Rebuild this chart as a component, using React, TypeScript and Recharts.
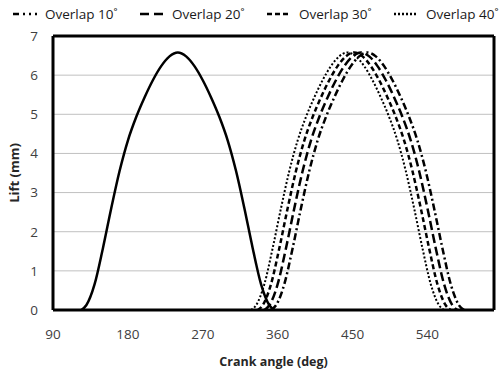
import React from "react";
import {
  LineChart,
  Line,
  XAxis,
  YAxis,
  CartesianGrid,
  Legend,
  ReferenceLine,
} from "recharts";

// lift (mm), same cam profile for every valve
const LIFT = [0, 0.12, 0.66, 1.58, 2.6, 3.55, 4.33, 4.93, 5.43, 5.87, 6.23, 6.48, 6.58, 6.48, 6.23, 5.87, 5.43, 4.93, 4.33, 3.55, 2.6, 1.58, 0.66, 0.12, 0];

// crank angles (deg) for each curve, one per lift value above
const ANGLE_EXHAUST = [124, 130, 140, 150, 160, 170, 180, 190, 200, 210, 220, 230, 240, 250, 260, 270, 280, 290, 300, 310, 320, 330, 340, 350, 356];
const ANGLE_OV40 = [328, 334, 344, 354, 364, 374, 384, 394, 404, 414, 424, 434, 444, 454, 464, 474, 484, 494, 504, 514, 524, 534, 544, 554, 560];
const ANGLE_OV30 = [336, 342, 352, 362, 372, 382, 392, 402, 412, 422, 432, 442, 452, 462, 472, 482, 492, 502, 512, 522, 532, 542, 552, 562, 568];
const ANGLE_OV20 = [344, 350, 360, 370, 380, 390, 400, 410, 420, 430, 440, 450, 460, 470, 480, 490, 500, 510, 520, 530, 540, 550, 560, 570, 576];
const ANGLE_OV10 = [352, 358, 368, 378, 388, 398, 408, 418, 428, 438, 448, 458, 468, 478, 488, 498, 508, 518, 528, 538, 548, 558, 568, 578, 584];

const X_TICKS = [90, 180, 270, 360, 450, 540];
const Y_TICKS = [0, 1, 2, 3, 4, 5, 6, 7];

const toPoints = (angles: number[]) =>
  angles.map((angle, i) => ({ angle, lift: LIFT[i] }));

const SERIES = [
  { name: "Overlap 10˚", angles: ANGLE_OV10, dash: "7 3 2 3", icon: "6 4 2 4 2 4", width: 2.5 },
  { name: "Overlap 20˚", angles: ANGLE_OV20, dash: "9 4", icon: "9 5", width: 2.5 },
  { name: "Overlap 30˚", angles: ANGLE_OV30, dash: "5 3", icon: "5 3", width: 2.5 },
  { name: "Overlap 40˚", angles: ANGLE_OV40, dash: "2 2", icon: "2 2", width: 2 },
];

const FONT = "'Open Sans', sans-serif";

function LegendRow() {
  return (
    <div style={{ display: "flex", paddingLeft: 13, height: 28, alignItems: "center" }}>
      {SERIES.map((s) => (
        <div key={s.name} style={{ width: 127, display: "flex", alignItems: "center", flexShrink: 0 }}>
          <svg width={24} height={6} style={{ marginRight: 8 }}>
            <line x1={0} y1={3} x2={24} y2={3} stroke="#000" strokeWidth={2.5} strokeDasharray={s.icon} />
          </svg>
          <span style={{ fontFamily: FONT, fontSize: 13.5, color: "#1a1a1a", whiteSpace: "nowrap" }}>
            {s.name}
          </span>
        </div>
      ))}
    </div>
  );
}

export default function App() {
  return (
    <div style={{ position: "absolute", left: 0, top: 0, background: "#fff" }}>
      <LineChart
        width={499}
        height={372}
        margin={{ top: 8, right: 5, left: 0, bottom: 0 }}
      >
        <Legend
          verticalAlign="top"
          align="left"
          content={() => <LegendRow />}
          wrapperStyle={{ top: 0, left: 0, width: 499, height: 28 }}
        />
        <CartesianGrid vertical={false} stroke="#c0c0c0" strokeWidth={1} />
        <XAxis
          dataKey="angle"
          type="number"
          domain={[90, 620]}
          ticks={X_TICKS}
          allowDataOverflow
          height={62}
          tickLine={false}
          tickSize={0}
          tickMargin={19}
          axisLine={{ stroke: "#000", strokeWidth: 3 }}
          tick={{ fill: "#404040", fontSize: 13.5, fontFamily: FONT }}
          label={{
            value: "Crank angle (deg)",
            position: "insideBottom",
            offset: 6,
            style: { fontFamily: FONT, fontSize: 12.5, fontWeight: 700, fill: "#262626" },
          }}
        />
        <YAxis
          type="number"
          domain={[0, 7]}
          ticks={Y_TICKS}
          width={53}
          tickLine={false}
          tickSize={0}
          tickMargin={15}
          axisLine={{ stroke: "#000", strokeWidth: 3 }}
          tick={{ fill: "#404040", fontSize: 13.5, fontFamily: FONT }}
          label={{
            value: "Lift (mm)",
            angle: -90,
            position: "insideLeft",
            offset: 14,
            style: { textAnchor: "middle", fontFamily: FONT, fontSize: 13, fontWeight: 700, fill: "#262626" },
          }}
        />
        <ReferenceLine y={7} stroke="#000" strokeWidth={3} />
        <ReferenceLine x={620} stroke="#000" strokeWidth={3} />
        <Line
          data={toPoints(ANGLE_EXHAUST)}
          dataKey="lift"
          name="Exhaust"
          type="monotone"
          stroke="#000"
          strokeWidth={2.5}
          dot={false}
          legendType="none"
          isAnimationActive={false}
        />
        {SERIES.map((s) => (
          <Line
            key={s.name}
            data={toPoints(s.angles)}
            dataKey="lift"
            name={s.name}
            type="monotone"
            stroke="#000"
            strokeWidth={s.width}
            strokeDasharray={s.dash}
            dot={false}
            isAnimationActive={false}
          />
        ))}
      </LineChart>
    </div>
  );
}
